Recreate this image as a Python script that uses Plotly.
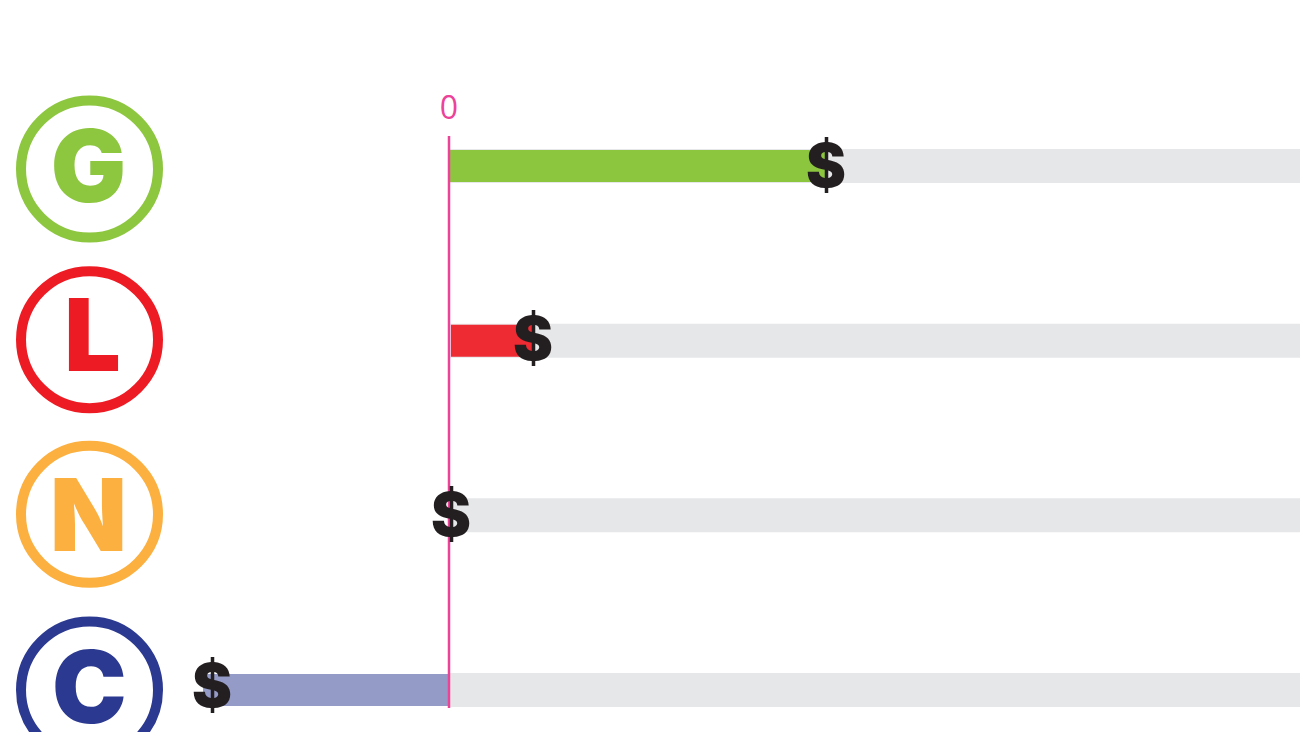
import plotly.graph_objects as go

# --- data ---
categories = ["G", "L", "N", "C"]
values = [376, 84, 0, -246]
track_extent = [851, 851, 851, 851]
bar_colors = ["#8CC63F", "#EE2A33", "#FBB040", "#959BC7"]
badge_colors = ["#8DC63F", "#ED1C24", "#FBB040", "#2B3990"]
zero_label = ["0"]

# --- layout constants (pixels) ---
W, H = 1300, 732
ZERO_PX = 449
ROW0_PX, ROW_STEP = 166, 174.67
rows = list(range(len(categories)))
bar_start = [1, 2, 0, 0]
badge_dy = [3 / ROW_STEP, -1 / ROW_STEP, -1 / ROW_STEP, 0]
dollar_dy = [6 / ROW_STEP, 4.5 / ROW_STEP, 6 / ROW_STEP, 2 / ROW_STEP]
dollar_dx = [1, 0, 2, 9]
letter_dy = [10.5 / ROW_STEP, 5 / ROW_STEP, 11 / ROW_STEP, 7.5 / ROW_STEP]
letter_dx = [-1, 3, -1, 0]
BADGE_X = 89.5 - ZERO_PX


def row_of(px):
    return (px - ROW0_PX) / ROW_STEP


fig = go.Figure()
fig.add_bar(
    y=rows, x=track_extent, base=0, orientation="h", width=34 / ROW_STEP,
    marker=dict(color="#E6E7E8", line_width=0), hoverinfo="skip", showlegend=False,
)
fig.add_bar(
    y=rows, x=[v - s for v, s in zip(values, bar_start)],
    base=bar_start, orientation="h", width=32 / ROW_STEP,
    marker=dict(color=bar_colors, line_width=0), showlegend=False,
)
fig.add_scatter(
    x=[0, 0], y=[row_of(136), row_of(708)], mode="lines",
    line=dict(color="#EC4399", width=2.5), hoverinfo="skip", showlegend=False,
)
fig.add_scatter(
    x=[0], y=[row_of(111)], mode="text", text=zero_label, textposition="middle center",
    textfont=dict(family="Open Sans", size=32, color="#EC4399"), showlegend=False,
)
fig.add_scatter(
    x=[BADGE_X] * 4, y=[r + d for r, d in zip(rows, badge_dy)], mode="markers",
    marker=dict(symbol="circle", size=137, color="rgba(0,0,0,0)",
                line=dict(color=badge_colors, width=10)),
    hoverinfo="skip", showlegend=False,
)
fig.add_scatter(
    x=[BADGE_X + d for d in letter_dx], y=[r + d for r, d in zip(rows, letter_dy)], mode="text",
    text=categories, textposition="middle center",
    textfont=dict(family="Inter", size=100, color=badge_colors, weight=900),
    showlegend=False,
)
fig.add_scatter(
    x=[v + d for v, d in zip(values, dollar_dx)],
    y=[r + d for r, d in zip(rows, dollar_dy)], mode="text",
    text=["$"] * 4, textposition="middle center",
    textfont=dict(family="Inter", size=60, color="#231F20", weight=900),
    showlegend=False,
)
fig.update_layout(
    width=W, height=H, autosize=False, margin=dict(l=0, r=0, t=0, b=0),
    paper_bgcolor="white", plot_bgcolor="white", barmode="overlay",
    xaxis=dict(range=[-ZERO_PX, W - ZERO_PX], visible=False),
    yaxis=dict(range=[row_of(H), row_of(0)], visible=False),
)
fig.write_html(
    "out.html",
    config={"displayModeBar": False},
    post_script="document.body.style.margin='0';document.documentElement.style.overflow='hidden';",
)
